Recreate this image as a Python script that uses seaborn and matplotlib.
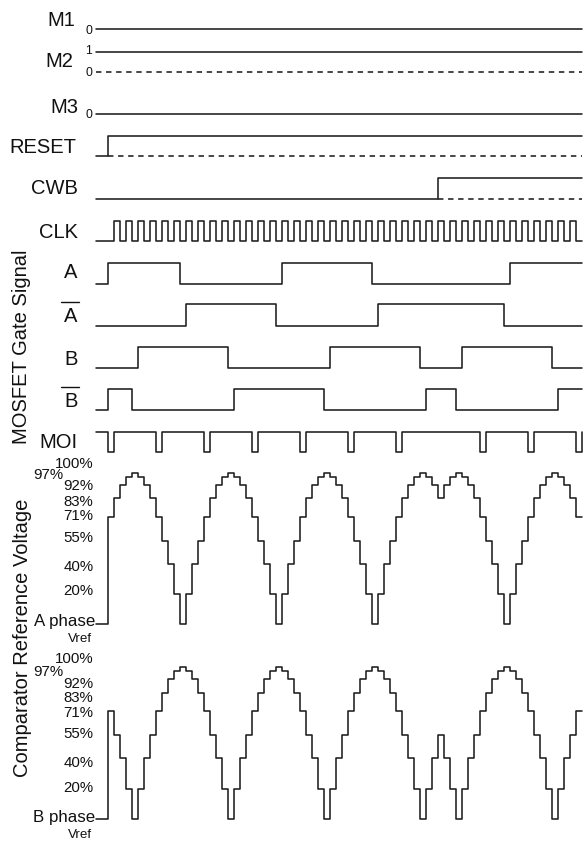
import matplotlib
matplotlib.use("Agg")
import matplotlib.pyplot as plt
from matplotlib.lines import Line2D
import pandas as pd
import seaborn as sns

# ---------------- signal data ----------------
# Time is counted in reference steps (each step = half a clock period).
N_STEPS = 79
T_LEAD = -2          # idle lead-in before the first step

M1_VALUE = 0
M2_VALUE = 1
M3_VALUE = 0

RESET_EDGES = [0]
CWB_EDGES = [55]
CLK_RISES = [1, 3, 5, 7, 9, 11, 13, 15, 17, 19, 21, 23, 25, 27, 29, 31, 33,
             35, 37, 39, 41, 43, 45, 47, 49, 51, 53, 55, 57, 59, 61, 63, 65,
             67, 69, 71, 73, 75, 77]
GATE_A_EDGES = [0, 12, 29, 44, 67]
GATE_A_BAR_EDGES = [13, 28, 45, 66]
GATE_B_EDGES = [5, 20, 37, 52, 59, 74]
GATE_B_BAR_EDGES = [0, 4, 21, 36, 53, 58, 75]
MOI_LOW_STARTS = [0, 8, 16, 24, 32, 40, 48, 62, 70, 78]

# comparator reference levels (% of full scale), one value per step
A_REF = [71, 83, 92, 97, 100, 97, 92, 83, 71, 55, 40, 20,
         0, 20, 40, 55, 71, 83, 92, 97, 100, 97, 92, 83, 71, 55, 40, 20,
         0, 20, 40, 55, 71, 83, 92, 97, 100, 97, 92, 83, 71, 55, 40, 20,
         0, 20, 40, 55, 71, 83, 92, 97, 100, 97, 92, 83,
         92, 97, 100, 97, 92, 83, 71, 55, 40, 20, 0,
         20, 40, 55, 71, 83, 92, 97, 100, 97, 92, 83, 71]
B_REF = [71, 55, 40, 20, 0, 20, 40, 55, 71, 83, 92, 97,
         100, 97, 92, 83, 71, 55, 40, 20, 0, 20, 40, 55, 71, 83, 92, 97,
         100, 97, 92, 83, 71, 55, 40, 20, 0, 20, 40, 55, 71, 83, 92, 97,
         100, 97, 92, 83, 71, 55, 40, 20, 0, 20, 40, 55,
         40, 20, 0, 20, 40, 55, 71, 83, 92, 97, 100,
         97, 92, 83, 71, 55, 40, 20, 0, 20, 40, 55, 71]
PCT_LABELS = ["100%", "97%", "92%", "83%", "71%", "55%", "40%", "20%"]

# ---------------- layout (pixels) ----------------
W, H = 585, 841
X_ORIGIN, X_STEP = 108.3, 6.0      # pixel x of step 0, pixels per step
LINE_COLOR = "#1e1e1e"
LW = 1.15
DASH = (0, (3.4, 2.9))

sns.set_style("white")
plt.rcParams["font.family"] = ["Liberation Sans", "DejaVu Sans"]

fig = plt.figure(figsize=(W / 100, H / 100), dpi=100)
ax = fig.add_axes([0, 0, 1, 1])
ax.set_xlim(-X_ORIGIN / X_STEP, (W - X_ORIGIN) / X_STEP)
ax.set_ylim(H, 0)
ax.axis("off")


def edges_to_points(edges, init):
    ts, lv = [T_LEAD], [init]
    level = init
    for e in edges:
        level = 1 - level
        ts.append(e)
        lv.append(level)
    if ts[-1] != N_STEPS:
        ts.append(N_STEPS)
        lv.append(level)
    return ts, lv


def pulses_to_edges(starts, width):
    out = []
    for s in starts:
        out += [s, s + width]
    return out


# name, edges, initial level, zero-level y, one-level y
digital_rows = [
    ("M1", [], M1_VALUE, 29.3, 9.0),
    ("M2", [], M2_VALUE, 72.0, 51.7),
    ("M3", [], M3_VALUE, 113.7, 93.0),
    ("RESET", RESET_EDGES, 0, 155.7, 135.7),
    ("CWB", CWB_EDGES, 0, 198.5, 177.5),
    ("CLK", pulses_to_edges(CLK_RISES, 1), 0, 241.0, 220.7),
    ("A", GATE_A_EDGES, 0, 284.3, 262.7),
    ("A_bar", GATE_A_BAR_EDGES, 0, 326.0, 304.3),
    ("B", GATE_B_EDGES, 0, 368.3, 346.7),
    ("B_bar", GATE_B_BAR_EDGES, 0, 410.0, 389.0),
    ("MOI", pulses_to_edges(MOI_LOW_STARTS, 1), 1, 451.7, 431.7),
]

frames = []
for name, edges, init, y0, y1 in digital_rows:
    ts, lv = edges_to_points(edges, init)
    frames.append(pd.DataFrame({
        "t": ts,
        "y": [y0 - v * (y0 - y1) for v in lv],
        "trace": name,
    }))

# staircase reference voltages: zero-level y, full-scale y
analog_rows = [("A_ref", A_REF, 624.3, 472.7), ("B_ref", B_REF, 819.3, 666.7)]
for name, levels, y0, y100 in analog_rows:
    ts = [T_LEAD] + list(range(N_STEPS)) + [N_STEPS]
    lv = [0] + levels + [levels[-1]]
    frames.append(pd.DataFrame({
        "t": ts,
        "y": [y0 - v / 100 * (y0 - y100) for v in lv],
        "trace": name,
    }))

traces = pd.concat(frames, ignore_index=True)
sns.lineplot(data=traces, x="t", y="y", units="trace", estimator=None,
             sort=False, color=LINE_COLOR, lw=LW, drawstyle="steps-post",
             ax=ax, legend=False)

# dashed zero references for signals sitting at logic one
dashed = pd.DataFrame({
    "t": [T_LEAD, N_STEPS, RESET_EDGES[0], N_STEPS, CWB_EDGES[0], N_STEPS],
    "y": [72.0, 72.0, 155.7, 155.7, 198.5, 198.5],
    "trace": ["M2", "M2", "RESET", "RESET", "CWB", "CWB"],
})
sns.lineplot(data=dashed, x="t", y="y", units="trace", estimator=None,
             sort=False, color=LINE_COLOR, lw=LW, linestyle=DASH, ax=ax,
             legend=False)


def ftext(xp, yp, s, size, ha="right", va="baseline", **kw):
    fig.text(xp / W, 1 - yp / H, s, fontsize=size, ha=ha, va=va,
             color="#111111", **kw)


def overline(x0, x1, yp):
    fig.add_artist(Line2D([x0 / W, x1 / W], [1 - yp / H, 1 - yp / H],
                          color="#111111", lw=1.0))


# row names
BIG = 14.5
ftext(75.5, 26.0, "M1", BIG)
ftext(73.5, 66.7, "M2", BIG)
ftext(78.0, 112.7, "M3", BIG)
ftext(76.5, 153.0, "RESET", BIG)
ftext(77.5, 194.0, "CWB", BIG)
ftext(78.5, 238.3, "CLK", BIG)
ftext(77.5, 278.0, "A", BIG)
ftext(77.5, 321.7, "A", BIG)
overline(61, 79, 302.3)
ftext(77.5, 365.0, "B", BIG)
ftext(77.5, 406.7, "B", BIG)
overline(61, 79, 386.7)
ftext(77.5, 448.0, "MOI", BIG)

# logic level marks
SMALL = 8.8
ftext(92.0, 34.5, "0", SMALL)
ftext(92.0, 54.5, "1", SMALL)
ftext(92.0, 76.0, "0", SMALL)
ftext(92.0, 118.5, "0", SMALL)

# percentage scales beside the staircases
PCT = 10.8
pct_a_base = [468.3, 479.0, 490.0, 506.0, 520.0, 541.7, 570.7, 595.0]
pct_b_base = [663.3, 675.7, 688.3, 701.7, 716.7, 738.3, 766.7, 792.3]
for lab, ya, yb in zip(PCT_LABELS, pct_a_base, pct_b_base):
    xr = 63.5 if lab == "97%" else 93.5
    ftext(xr, ya, lab, PCT)
    ftext(xr, yb, lab, PCT)

ftext(95.5, 626.0, "A phase", 12.2)
ftext(92.5, 641.7, "Vref", 9.6)
ftext(95.5, 821.7, "B phase", 12.2)
ftext(92.5, 838.0, "Vref", 9.6)

# group titles
ftext(21.5, 346.5, "MOSFET Gate Signal", BIG, ha="center", va="center",
      rotation=90)
ftext(23.0, 637.5, "Comparator Reference Voltage", BIG, ha="center",
      va="center", rotation=90)

fig.savefig("out.png", dpi=100, facecolor="white")
